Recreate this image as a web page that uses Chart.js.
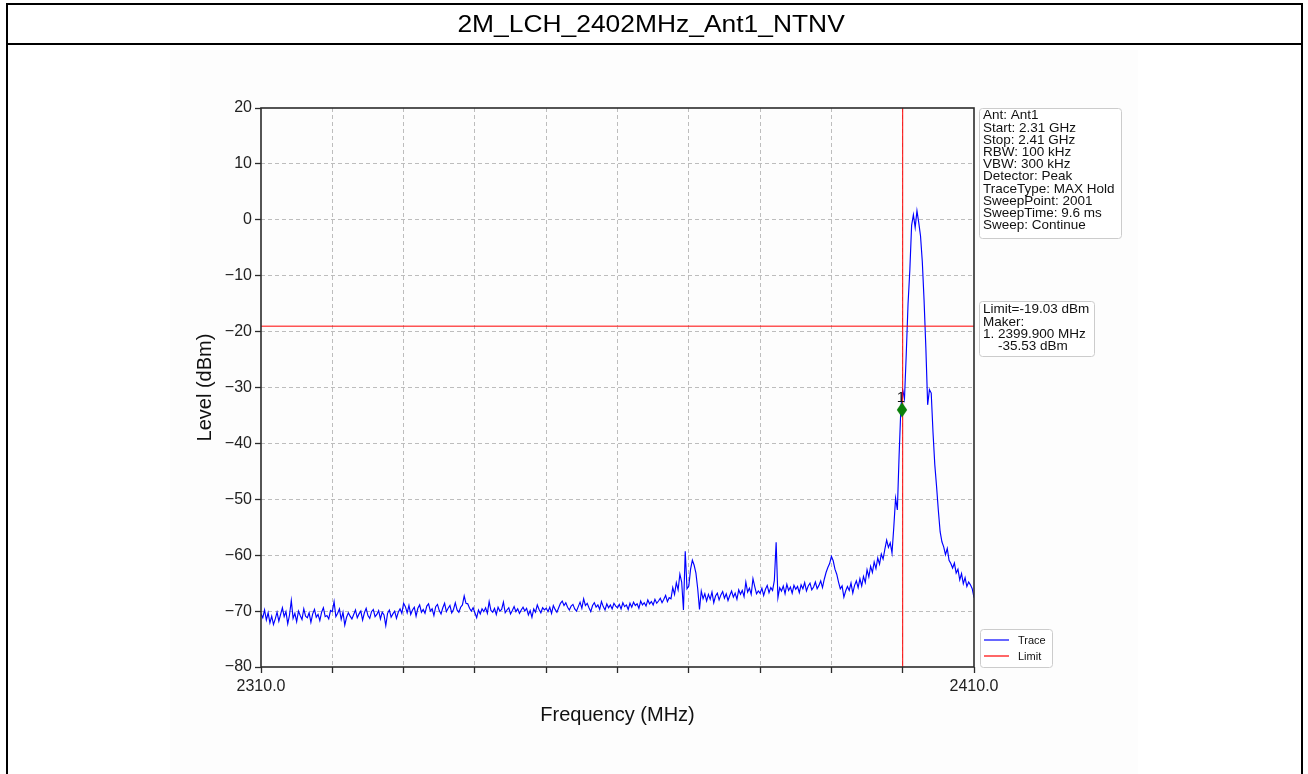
<!DOCTYPE html>
<html><head><meta charset="utf-8">
<script src="https://cdn.jsdelivr.net/npm/chart.js@4.4.1/dist/chart.umd.min.js"></script>
<style>
html,body{margin:0;padding:0;width:1308px;height:774px;overflow:hidden;background:#fff;}
#figbg{position:absolute;left:170px;top:50px;width:968px;height:724px;background:#fdfdfd;}
#c{position:absolute;left:0;top:0;}
.ln{position:absolute;background:#000;}
#title{position:absolute;left:8px;width:1286px;top:5px;height:38px;text-align:center;font-family:"Liberation Sans",Arial,sans-serif;font-size:24px;line-height:38px;color:#000;}
#title span{display:inline-block;transform:scaleX(1.1);}
</style></head><body>
<div id="figbg"></div>
<canvas id="c" width="1308" height="774"></canvas>
<div class="ln" style="left:6px;top:3px;width:1297px;height:2px"></div>
<div class="ln" style="left:6px;top:43px;width:1297px;height:2px"></div>
<div class="ln" style="left:6px;top:3px;width:2px;height:771px"></div>
<div class="ln" style="left:1301px;top:3px;width:2px;height:771px"></div>
<div id="title"><span>2M_LCH_2402MHz_Ant1_NTNV</span></div>
<script>
// ---------------- data ----------------
const titleText = '2M_LCH_2402MHz_Ant1_NTNV';
const traceStartMHz = 2310;
const traceStepMHz = 0.25;
const traceLevels = [
 // 2310 - 2319.75
 -70.5,-71.2,-69.8,-71.6,-70.3,-72.1,-70.9,-72.4,-71.4,-70.2,
 -71.8,-70.6,-69.4,-71.0,-70.1,-72.3,-70.7,-68.1,-71.3,-70.4,
 -71.9,-70.0,-70.8,-71.5,-69.6,-70.9,-71.2,-70.3,-72.0,-70.5,
 -69.7,-71.1,-70.6,-71.7,-70.2,-69.4,-71.0,-70.8,-71.4,-69.9,
 // 2320 - 2329.75
 -70.1,-68.3,-71.0,-70.4,-69.6,-71.5,-70.2,-72.5,-71.1,-70.3,
 -70.9,-71.4,-70.6,-69.8,-71.2,-70.5,-70.0,-71.6,-70.3,-69.5,
 -70.8,-71.3,-70.1,-69.7,-71.0,-70.6,-69.9,-71.4,-70.2,-70.7,
 -72.6,-70.4,-69.8,-71.1,-70.5,-70.0,-71.3,-70.2,-69.6,-70.4,
 // 2330 - 2339.75
 -68.6,-69.2,-70.3,-69.0,-70.6,-69.8,-69.3,-70.9,-69.5,-68.9,
 -70.2,-69.7,-70.4,-69.1,-68.7,-70.0,-69.6,-70.8,-69.2,-68.8,
 -69.9,-70.5,-69.4,-68.6,-70.1,-69.5,-69.0,-70.3,-69.7,-68.5,
 -69.8,-70.2,-69.3,-68.9,-67.3,-68.6,-68.7,-69.5,-70.0,-69.4,
 // 2340 - 2349.75
 -70.3,-71.2,-69.8,-70.5,-69.6,-70.1,-69.4,-70.4,-68.3,-69.9,
 -70.2,-69.5,-70.6,-69.3,-70.0,-69.7,-68.4,-70.3,-69.8,-69.4,
 -70.5,-69.9,-69.2,-70.1,-69.6,-70.4,-69.8,-69.3,-70.0,-69.5,
 -70.7,-69.9,-71.1,-69.6,-70.2,-68.9,-69.7,-70.3,-69.4,-69.8,
 // 2350 - 2359.75
 -69.5,-70.1,-69.3,-70.4,-69.0,-69.7,-70.2,-69.4,-68.6,-68.2,
 -69.0,-68.5,-69.3,-69.8,-69.1,-68.8,-69.6,-70.0,-69.2,-68.4,
 -69.5,-67.8,-69.0,-68.6,-69.4,-70.1,-69.0,-68.5,-69.3,-68.9,
 -69.7,-68.3,-69.2,-69.8,-68.7,-69.4,-68.9,-69.6,-68.6,-69.1,
 // 2360 - 2369.75
 -69.4,-68.8,-69.6,-68.5,-69.2,-68.9,-69.7,-68.6,-69.3,-68.4,
 -69.0,-68.7,-69.5,-68.2,-68.9,-68.5,-69.1,-68.0,-68.7,-68.3,
 -68.9,-67.9,-68.6,-68.2,-67.7,-68.5,-67.9,-67.2,-68.3,-67.6,
 -67.8,-65.8,-67.0,-64.9,-66.2,-63.4,-64.8,-69.8,-59.3,-66.0,
 // 2370 - 2379.75
 -65.5,-62.5,-60.9,-61.8,-63.2,-66.0,-69.7,-66.4,-67.8,-66.9,
 -68.2,-67.0,-67.9,-66.6,-68.5,-67.3,-66.8,-68.0,-67.1,-66.5,
 -67.7,-66.9,-68.1,-67.2,-66.4,-67.5,-66.8,-67.9,-66.2,-67.0,
 -66.3,-67.4,-64.8,-66.6,-65.9,-67.0,-64.2,-65.6,-66.9,-66.4,
 // 2380 - 2389.75
 -66.8,-65.9,-67.2,-66.1,-65.4,-66.7,-65.8,-66.3,-64.5,-57.7,
 -67.6,-65.8,-66.4,-65.5,-66.9,-65.2,-66.3,-65.7,-66.8,-65.4,
 -66.1,-65.6,-66.7,-65.3,-66.0,-64.9,-66.4,-65.5,-65.0,-66.2,
 -65.7,-64.8,-66.0,-65.4,-64.6,-65.8,-64.3,-63.1,-62.2,-61.5,
 // 2390 - 2399.75
 -60.2,-61.0,-62.5,-63.4,-64.8,-66.0,-65.5,-67.5,-66.4,-65.6,
 -66.3,-65.0,-66.8,-65.4,-64.6,-65.8,-64.2,-65.5,-63.8,-64.9,
 -62.6,-63.9,-62.0,-63.1,-61.2,-62.4,-60.5,-61.6,-59.8,-60.7,
 -58.9,-57.3,-58.6,-57.8,-59.6,-55.0,-49.8,-51.9,-42.0,-33.5,
 // 2400 - 2410
 -30.4,-32.0,-24.0,-15.0,-9.0,-1.0,0.9,-1.4,1.6,-0.5,
 -2.9,-7.5,-14.5,-23.0,-33.1,-30.4,-31.0,-38.0,-43.8,-47.7,
 -52.0,-55.8,-57.6,-58.5,-59.9,-58.8,-60.9,-61.5,-62.3,-61.4,
 -63.2,-62.5,-64.4,-63.3,-65.1,-64.0,-65.6,-64.8,-65.3,-66.0,
 -67.6
];
const freqRange = [2310, 2410];
const levelRange = [-80, 20];
const xTickLabels = ['2310.0', '2410.0'];
const limitLevel = -19.03;
const markerLineFreq = 2400.0;
const markerFreq = 2399.9;
const markerLevel = -34.0;
const markerLabel = '1';
const infoLines = ['Ant: Ant1','Start: 2.31 GHz','Stop: 2.41 GHz','RBW: 100 kHz','VBW: 300 kHz',
  'Detector: Peak','TraceType: MAX Hold','SweepPoint: 2001','SweepTime: 9.6 ms','Sweep: Continue'];
const limitInfoLines = ['Limit=-19.03 dBm','Maker:','1. 2399.900 MHz','    -35.53 dBm'];
const legendLabels = ['Trace', 'Limit'];
const legendColors = ['#0000ff', '#ff0000'];
const xTitle = 'Frequency (MHz)';
const yTitle = 'Level (dBm)';

// ---------------- chart ----------------
const FONT = '"Liberation Sans", Arial, sans-serif';
const traceData = traceLevels.map((v, i) => ({x: traceStartMHz + i * traceStepMHz, y: v}));

const dia = document.createElement('canvas');
dia.width = 12; dia.height = 16;
(function(){ const d = dia.getContext('2d'); d.fillStyle = '#0a800a';
  d.beginPath(); d.moveTo(6, 0.5); d.lineTo(11.2, 8); d.lineTo(6, 15.5); d.lineTo(0.8, 8); d.closePath(); d.fill(); })();

function roundBox(ctx, x, y, w, h, r) {
  ctx.beginPath();
  ctx.moveTo(x + r, y); ctx.lineTo(x + w - r, y); ctx.quadraticCurveTo(x + w, y, x + w, y + r);
  ctx.lineTo(x + w, y + h - r); ctx.quadraticCurveTo(x + w, y + h, x + w - r, y + h);
  ctx.lineTo(x + r, y + h); ctx.quadraticCurveTo(x, y + h, x, y + h - r);
  ctx.lineTo(x, y + r); ctx.quadraticCurveTo(x, y, x + r, y); ctx.closePath();
}

const overlay = {
  id: 'overlay',
  afterDatasetsDraw(chart) {
    const ctx = chart.ctx, ca = chart.chartArea;
    const xs = chart.scales.x, ys = chart.scales.y;
    ctx.save();
    ctx.fillStyle = '#111';
    ctx.font = '15px ' + FONT;
    ctx.textAlign = 'center'; ctx.textBaseline = 'alphabetic';
    ctx.fillText(markerLabel, xs.getPixelForValue(markerFreq) - 1, ys.getPixelForValue(markerLevel) - 8);
    ctx.strokeStyle = '#2b2b2b'; ctx.lineWidth = 1.6;
    ctx.strokeRect(ca.left, ca.top, ca.right - ca.left, ca.bottom - ca.top);
    ctx.restore();
  },
  afterDraw(chart) {
    const ctx = chart.ctx, ca = chart.chartArea;
    ctx.save();
    const bx = ca.right + 5;
    ctx.lineWidth = 1; ctx.strokeStyle = '#cccccc'; ctx.fillStyle = 'rgba(255,255,255,0.85)';
    roundBox(ctx, bx + 0.5, ca.top + 0.5, 142, 130, 3); ctx.fill(); ctx.stroke();
    ctx.fillStyle = '#111'; ctx.font = '13.5px ' + FONT; ctx.textAlign = 'left'; ctx.textBaseline = 'alphabetic';
    infoLines.forEach((t, i) => ctx.fillText(t, bx + 4, ca.top + 11.3 + i * 12.2));
    const by2 = 301;
    ctx.fillStyle = 'rgba(255,255,255,0.85)';
    roundBox(ctx, bx + 0.5, by2 + 0.5, 115, 55, 3); ctx.fill(); ctx.stroke();
    ctx.fillStyle = '#111';
    limitInfoLines.forEach((t, i) => ctx.fillText(t, bx + 4, by2 + 12.3 + i * 12.2));
    const ly = 629;
    ctx.fillStyle = 'rgba(255,255,255,0.85)'; ctx.strokeStyle = '#cccccc';
    roundBox(ctx, bx + 1.5, ly + 0.5, 72, 38, 3); ctx.fill(); ctx.stroke();
    ctx.font = '11px ' + FONT;
    legendLabels.forEach((t, i) => {
      const yy = ly + 11 + i * 16;
      ctx.strokeStyle = legendColors[i]; ctx.lineWidth = 1.2;
      ctx.beginPath(); ctx.moveTo(bx + 5, yy); ctx.lineTo(bx + 30, yy); ctx.stroke();
      ctx.fillStyle = '#111'; ctx.textBaseline = 'middle';
      ctx.fillText(t, bx + 39, yy + 0.5);
    });
    ctx.restore();
  }
};

const gridColor = (c) => {
  const sc = c.scale;
  if (c.tick && (c.tick.value === sc.min || c.tick.value === sc.max)) return 'rgba(0,0,0,0)';
  return '#bdbdbd';
};

new Chart(document.getElementById('c'), {
  type: 'line',
  data: {
    datasets: [
      {label: 'Marker', data: [{x: markerFreq, y: markerLevel}], showLine: false,
       pointStyle: dia, pointRadius: 7, borderColor: '#0a800a', backgroundColor: '#0a800a', order: 0},
      {label: 'MarkerLine', data: [{x: markerLineFreq, y: levelRange[0]}, {x: markerLineFreq, y: levelRange[1]}],
       borderColor: '#ff0000', borderWidth: 1, pointRadius: 0, order: 1},
      {label: legendLabels[1], data: [{x: freqRange[0], y: limitLevel}, {x: freqRange[1], y: limitLevel}],
       borderColor: '#ff0000', borderWidth: 1, pointRadius: 0, order: 2},
      {label: legendLabels[0], data: traceData, borderColor: '#0000ff', borderWidth: 1.15,
       pointRadius: 0, tension: 0, order: 3}
    ]
  },
  options: {
    responsive: false, animation: false, events: [],
    layout: {padding: {left: 0, top: 108, right: 334, bottom: 0}},
    plugins: {legend: {display: false}, tooltip: {enabled: false}},
    scales: {
      x: {
        type: 'linear', min: freqRange[0], max: freqRange[1],
        ticks: {stepSize: 10, autoSkip: false, maxRotation: 0, padding: 4, color: '#222',
          font: {family: FONT, size: 16},
          callback: (v) => (v === freqRange[0] ? xTickLabels[0] : (v === freqRange[1] ? xTickLabels[1] : ''))},
        grid: {color: gridColor, lineWidth: 1, tickColor: '#2b2b2b', tickLength: 6, tickWidth: 1.3},
        border: {display: false, dash: [4, 3]},
        title: {display: true, text: xTitle, color: '#111', font: {family: FONT, size: 20}, padding: {top: 0, bottom: 47}},
        afterFit: (s) => { s.height = 107; }
      },
      y: {
        min: levelRange[0], max: levelRange[1],
        ticks: {stepSize: 10, padding: 3, color: '#222', font: {family: FONT, size: 16},
          callback: (v) => String(v).replace('-', '\u2212')},
        grid: {color: gridColor, lineWidth: 1, tickColor: '#2b2b2b', tickLength: 6, tickWidth: 1.3},
        border: {display: false, dash: [4, 3]},
        title: {display: true, text: yTitle, color: '#111', font: {family: FONT, size: 20}, padding: {top: 193, bottom: 0}},
        afterFit: (s) => { s.width = 261; }
      }
    }
  },
  plugins: [overlay]
});
</script>
</body></html>
